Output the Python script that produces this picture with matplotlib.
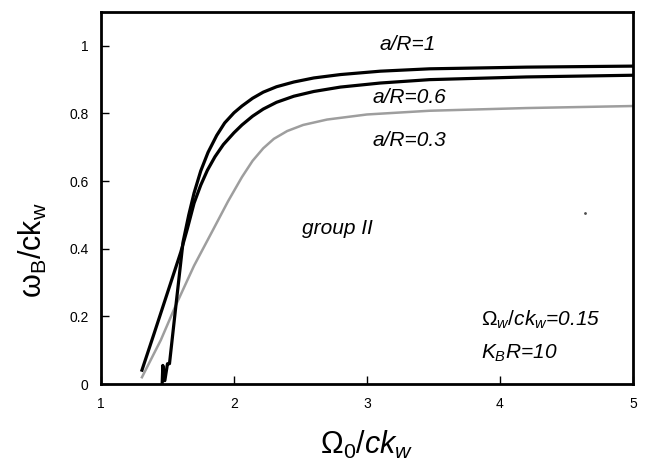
import matplotlib.pyplot as plt

plt.rcParams['font.family'] = ['Liberation Sans', 'DejaVu Sans']
plt.rcParams['mathtext.fontset'] = 'custom'
plt.rcParams['mathtext.rm'] = 'Liberation Sans'
plt.rcParams['mathtext.it'] = 'Liberation Sans:italic'
plt.rcParams['mathtext.default'] = 'it'

# a/R = 1 (thick black, starts with a small wiggle near 1.46)
x_r1 = [1.46, 1.465, 1.48, 1.50, 1.515, 1.56, 1.617, 1.66, 1.70, 1.75, 1.805,
        1.87, 1.93, 2.0, 2.06, 2.14, 2.22, 2.32, 2.45, 2.6, 2.8, 3.1, 3.47,
        4.2, 5.0]
y_r1 = [0.0, 0.055, 0.01, 0.06, 0.06, 0.22, 0.42, 0.50, 0.565, 0.63, 0.685,
        0.735, 0.772, 0.802, 0.822, 0.845, 0.863, 0.879, 0.893, 0.905, 0.915,
        0.925, 0.932, 0.937, 0.940]

# a/R = 0.6 (thick black)
x_r06 = [1.308, 1.40, 1.50, 1.60, 1.65, 1.70, 1.75, 1.80, 1.857, 1.92, 2.0,
         2.06, 2.14, 2.22, 2.32, 2.45, 2.6, 2.8, 3.1, 3.47, 4.2, 5.0]
y_r06 = [0.041, 0.15, 0.27, 0.39, 0.46, 0.535, 0.588, 0.632, 0.672, 0.708,
         0.743, 0.766, 0.792, 0.813, 0.833, 0.851, 0.865, 0.878, 0.890, 0.900,
         0.908, 0.913]

# a/R = 0.3 (grey)
x_r03 = [1.308, 1.45, 1.556, 1.70, 1.84, 1.955, 2.06, 2.14, 2.22, 2.30, 2.40,
         2.52, 2.7, 3.0, 3.47, 4.2, 5.0]
y_r03 = [0.02, 0.13, 0.227, 0.35, 0.454, 0.54, 0.612, 0.660, 0.697, 0.725,
         0.748, 0.766, 0.782, 0.797, 0.808, 0.816, 0.822]

xticks = [1, 2, 3, 4, 5]
yticks = [0, 0.2, 0.4, 0.6, 0.8, 1]
ytick_labels = ['0', '0.2', '0.4', '0.6', '0.8', '1']

fig = plt.figure(figsize=(6.49, 4.67), dpi=100)
ax = fig.add_axes([0.1556, 0.1777, 0.8197, 0.7966])

ax.plot(x_r03, y_r03, color='0.62', lw=1.8)
ax.plot(x_r06, y_r06, color='black', lw=2.3)
ax.plot(x_r1, y_r1, color='black', lw=2.3)
ax.plot([4.64], [0.507], marker='.', color='0.3', markersize=2)

ax.set_xlim(1, 5)
ax.set_ylim(0, 1.1)
ax.set_xticks(xticks)
ax.set_xticklabels([str(t) for t in xticks])
ax.set_yticks(yticks)
ax.set_yticklabels(ytick_labels)
ax.tick_params(direction='in', length=6, width=1, labelsize=10, pad=9)
for s in ax.spines.values():
    s.set_linewidth(2)

txt = dict(fontsize=15, style='italic', ha='center', va='center')
ax.text(3.31, 1.005, 'a/R=1', **txt)
ax.text(3.32, 0.847, 'a/R=0.6', **txt)
ax.text(3.32, 0.72, 'a/R=0.3', **txt)
ax.text(2.78, 0.46, 'group II', **txt)
ax.text(3.86, 0.19, r'$\Omega_w/ck_w$=0.15', fontsize=15, style='italic',
        ha='left', va='center')
ax.text(3.86, 0.09, r'$K_BR$=10', fontsize=15, style='italic',
        ha='left', va='center')

fig.text(0.051, 0.465, r'$\mathrm{\omega_B/ck_w}$', fontsize=22,
         rotation=90, ha='center', va='center')
fig.text(0.565, 0.047, r'$\Omega_0/ck_w$', fontsize=22,
         ha='center', va='center')

fig.savefig('out.png', dpi=100)
